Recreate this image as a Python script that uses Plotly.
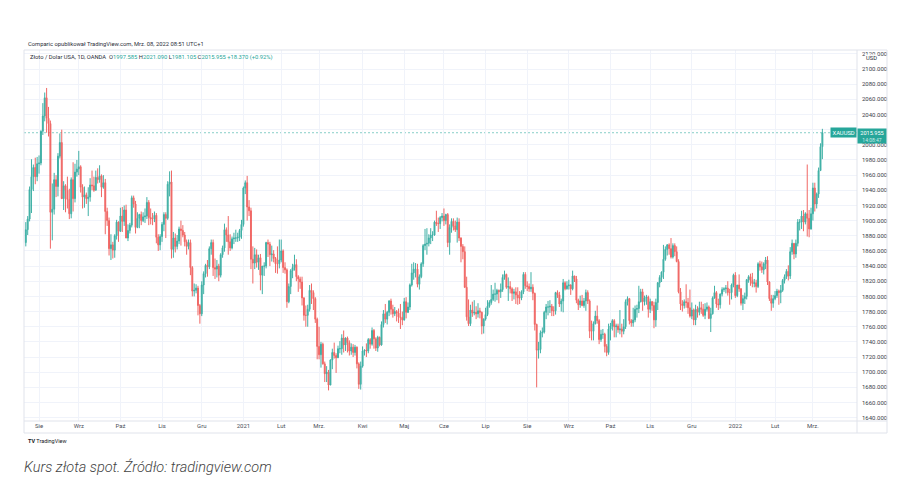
import pandas as pd
import plotly.graph_objects as go

# ---------------- data (XAU/USD, OANDA, 1D) ----------------
days = pd.bdate_range("2020-07-23", "2022-03-08")
days = days[~days.isin(pd.to_datetime(["2020-12-25", "2021-01-01"]))]
dates = [d.strftime("%Y-%m-%d") for d in days]

month_labels = ["Sie", "Wrz", "Paź", "Lis", "Gru", "2021", "Lut", "Mrz.", "Kwi", "Maj",
                "Cze", "Lip", "Sie", "Wrz", "Paź", "Lis", "Gru", "2022", "Lut", "Mrz."]

price_ticks = [1640, 1660, 1680, 1700, 1720, 1740, 1760, 1780, 1800, 1820, 1840, 1860, 1880,
               1900, 1920, 1940, 1960, 1980, 2000, 2020, 2040, 2060, 2080, 2100, 2120]
hidden_tick = 2020  # covered by the last-price label in the original

opens = [
    1871, 1888, 1902, 1941, 1958, 1970, 1958,  # 2020-07
    1975, 1976, 2018, 2038, 2062, 2035, 2028, 1911, 1915, 1954, 1945, 1985, 2003, 1929, 1946, 1940, 1928, 1909, 1954, 1929, 1964,  # 08
    1968, 1971, 1944, 1931, 1934, 1929, 1931, 1947, 1946, 1940, 1957, 1954, 1959, 1944, 1950, 1912, 1900, 1863, 1868, 1861, 1880, 1898,  # 09
    1886, 1906, 1899, 1914, 1877, 1887, 1894, 1930, 1922, 1891, 1903, 1908, 1900, 1905, 1906, 1924, 1904, 1902, 1902, 1907, 1878, 1868,  # 10
    1879, 1895, 1908, 1903, 1948, 1951, 1862, 1877, 1866, 1873, 1889, 1887, 1881, 1872, 1866, 1871, 1838, 1807, 1808, 1811, 1788,  # 11
    1777, 1815, 1830, 1841, 1839, 1863, 1871, 1838, 1836, 1840, 1828, 1855, 1864, 1888, 1881, 1872, 1864, 1876, 1877, 1877, 1878, 1887,  # 12
    1895, 1943, 1950, 1918, 1913, 1849, 1844, 1855, 1845, 1851, 1828, 1840, 1840, 1871, 1869, 1855, 1856, 1850, 1843, 1843,  # 2021-01
    1848, 1860, 1838, 1835, 1793, 1813, 1834, 1838, 1842, 1826, 1823, 1819, 1798, 1775, 1775, 1783, 1808, 1805, 1797, 1770,  # 02
    1734, 1723, 1737, 1711, 1698, 1700, 1683, 1716, 1726, 1722, 1719, 1731, 1731, 1745, 1736, 1745, 1739, 1728, 1733, 1726, 1733, 1711, 1684,  # 03
    1708, 1728, 1729, 1728, 1743, 1737, 1755, 1744, 1732, 1746, 1736, 1763, 1777, 1770, 1779, 1794, 1783, 1777, 1780, 1778, 1773, 1772,  # 04
    1769, 1793, 1779, 1786, 1815, 1831, 1836, 1836, 1816, 1826, 1843, 1867, 1869, 1870, 1877, 1881, 1881, 1898, 1896, 1896, 1904,  # 05
    1906, 1900, 1908, 1871, 1891, 1899, 1893, 1888, 1898, 1877, 1866, 1859, 1812, 1773, 1764, 1782, 1778, 1779, 1777, 1781, 1779, 1761,  # 06
    1770, 1776, 1787, 1792, 1796, 1803, 1803, 1808, 1806, 1809, 1825, 1829, 1812, 1813, 1810, 1804, 1806, 1802, 1798, 1798, 1806, 1829,  # 07
    1814, 1813, 1810, 1812, 1804, 1763, 1729, 1730, 1752, 1753, 1779, 1786, 1786, 1787, 1781, 1781, 1805, 1802, 1790, 1794, 1818, 1810,  # 08
    1814, 1815, 1810, 1827, 1823, 1795, 1789, 1794, 1788, 1794, 1805, 1794, 1754, 1754, 1764, 1774, 1768, 1743, 1750, 1750, 1734, 1726,  # 09
    1757, 1761, 1768, 1760, 1761, 1756, 1757, 1754, 1760, 1793, 1797, 1768, 1765, 1769, 1783, 1784, 1793, 1806, 1793, 1798, 1799,  # 10
    1783, 1793, 1788, 1769, 1792, 1818, 1825, 1832, 1849, 1862, 1868, 1863, 1852, 1867, 1859, 1846, 1806, 1790, 1788, 1793, 1792, 1785,  # 11
    1774, 1782, 1769, 1783, 1779, 1785, 1783, 1775, 1783, 1786, 1771, 1777, 1798, 1805, 1790, 1789, 1803, 1809, 1810, 1811, 1805, 1805, 1815,  # 12
    1828, 1801, 1815, 1810, 1791, 1797, 1800, 1822, 1826, 1821, 1817, 1818, 1813, 1843, 1839, 1835, 1843, 1848, 1819, 1797, 1791,  # 2022-01
    1797, 1801, 1807, 1805, 1808, 1821, 1826, 1833, 1827, 1859, 1870, 1856, 1870, 1898, 1898, 1906, 1898, 1909, 1903, 1889,  # 02
    1909, 1943, 1922, 1935, 1966, 1997.585,  # 03
]

highs = [
    1898, 1906, 1945, 1981, 1974, 1983, 1984,  # 2020-07
    1986, 2019, 2055, 2069, 2075, 2050, 2032, 1949, 1963, 1960, 1989, 2015, 2020, 1952, 1948, 1958, 1942, 1957, 1977, 1975, 1980,  # 08
    1992, 1973, 1948, 1945, 1937, 1944, 1956, 1966, 1958, 1966, 1969, 1973, 1961, 1960, 1955, 1917, 1904, 1882, 1872, 1882, 1901, 1899,  # 09
    1917, 1918, 1920, 1921, 1895, 1897, 1933, 1933, 1926, 1911, 1909, 1912, 1911, 1916, 1931, 1927, 1916, 1910, 1912, 1910, 1882, 1882,  # 10
    1898, 1911, 1911, 1952, 1965, 1966, 1885, 1883, 1881, 1892, 1900, 1894, 1885, 1875, 1875, 1875, 1840, 1817, 1816, 1814, 1790,  # 11
    1820, 1833, 1843, 1848, 1866, 1875, 1875, 1850, 1848, 1843, 1857, 1867, 1896, 1891, 1906, 1882, 1879, 1884, 1888, 1884, 1889, 1901,  # 12
    1945, 1953, 1959, 1927, 1917, 1866, 1864, 1862, 1855, 1856, 1839, 1845, 1872, 1875, 1872, 1867, 1861, 1852, 1866, 1875,  # 2021-01
    1875, 1862, 1845, 1837, 1817, 1836, 1843, 1855, 1849, 1828, 1826, 1826, 1799, 1788, 1789, 1815, 1817, 1808, 1799, 1772,  # 02
    1760, 1740, 1739, 1714, 1708, 1703, 1717, 1731, 1739, 1725, 1735, 1741, 1750, 1755, 1746, 1747, 1742, 1738, 1737, 1736, 1734, 1713, 1714,  # 03
    1734, 1730, 1738, 1745, 1745, 1759, 1757, 1746, 1748, 1747, 1767, 1782, 1790, 1781, 1795, 1797, 1789, 1786, 1782, 1784, 1790, 1780,  # 04
    1798, 1799, 1792, 1817, 1843, 1845, 1844, 1843, 1829, 1845, 1869, 1889, 1890, 1882, 1890, 1886, 1900, 1913, 1904, 1906, 1910,  # 05
    1916, 1909, 1910, 1895, 1903, 1903, 1900, 1904, 1903, 1878, 1869, 1866, 1826, 1796, 1789, 1793, 1795, 1787, 1791, 1785, 1780, 1771,  # 06
    1785, 1795, 1795, 1815, 1809, 1818, 1810, 1809, 1817, 1829, 1834, 1830, 1825, 1820, 1812, 1810, 1812, 1812, 1807, 1808, 1832, 1832,  # 07
    1820, 1817, 1832, 1816, 1805, 1764, 1740, 1755, 1759, 1781, 1790, 1794, 1795, 1790, 1787, 1806, 1808, 1806, 1797, 1823, 1820, 1820,  # 08
    1822, 1816, 1834, 1827, 1827, 1797, 1801, 1802, 1798, 1809, 1808, 1796, 1768, 1767, 1781, 1788, 1770, 1756, 1757, 1752, 1737, 1764,  # 09
    1765, 1770, 1770, 1764, 1764, 1782, 1764, 1770, 1796, 1800, 1798, 1770, 1785, 1788, 1789, 1814, 1810, 1810, 1801, 1802, 1801,  # 10
    1797, 1794, 1793, 1797, 1819, 1828, 1833, 1868, 1866, 1869, 1870, 1877, 1870, 1870, 1866, 1849, 1811, 1795, 1796, 1816, 1798, 1809,  # 11
    1792, 1784, 1789, 1787, 1793, 1793, 1790, 1791, 1792, 1788, 1785, 1800, 1814, 1807, 1797, 1804, 1812, 1812, 1815, 1820, 1810, 1817, 1830,  # 12
    1832, 1815, 1829, 1811, 1802, 1805, 1823, 1828, 1830, 1831, 1823, 1822, 1845, 1847, 1846, 1845, 1852, 1853, 1820, 1802, 1802,  # 2022-01
    1807, 1810, 1809, 1815, 1823, 1829, 1836, 1841, 1865, 1875, 1870, 1875, 1902, 1902, 1913, 1914, 1911, 1974, 1914, 1917,  # 02
    1950, 1950, 1937, 1970, 2002, 2021.090,  # 03
]

lows = [
    1866, 1881, 1899, 1910, 1939, 1948, 1952,  # 2020-07
    1962, 1973, 2013, 2031, 2016, 2011, 1863, 1874, 1908, 1931, 1932, 1982, 1930, 1914, 1911, 1916, 1902, 1903, 1912, 1924, 1958,  # 08
    1960, 1937, 1916, 1917, 1922, 1906, 1925, 1940, 1938, 1940, 1949, 1950, 1931, 1942, 1882, 1893, 1854, 1848, 1850, 1851, 1875, 1872,  # 09
    1885, 1885, 1893, 1877, 1873, 1883, 1891, 1917, 1883, 1890, 1890, 1894, 1898, 1897, 1902, 1894, 1895, 1894, 1898, 1870, 1860, 1861,  # 10
    1872, 1886, 1877, 1901, 1932, 1850, 1851, 1858, 1862, 1869, 1867, 1878, 1866, 1855, 1862, 1828, 1800, 1800, 1804, 1775, 1764,  # 11
    1774, 1803, 1825, 1826, 1836, 1855, 1827, 1823, 1825, 1820, 1825, 1851, 1859, 1872, 1855, 1860, 1862, 1869, 1872, 1872, 1873, 1876,  # 12
    1892, 1935, 1900, 1906, 1836, 1817, 1836, 1838, 1835, 1808, 1803, 1827, 1837, 1852, 1840, 1846, 1845, 1831, 1830, 1837,  # 2021-01
    1845, 1831, 1830, 1785, 1791, 1803, 1824, 1834, 1820, 1806, 1810, 1788, 1768, 1760, 1760, 1780, 1790, 1782, 1765, 1717,  # 02
    1717, 1706, 1710, 1687, 1687, 1676, 1683, 1704, 1718, 1699, 1719, 1725, 1723, 1726, 1728, 1726, 1722, 1723, 1720, 1722, 1705, 1678, 1677,  # 03
    1706, 1722, 1720, 1725, 1731, 1735, 1731, 1728, 1727, 1734, 1735, 1759, 1765, 1763, 1774, 1776, 1772, 1774, 1767, 1765, 1757, 1762,  # 04
    1768, 1771, 1778, 1782, 1813, 1822, 1825, 1812, 1809, 1824, 1839, 1861, 1855, 1866, 1869, 1873, 1880, 1893, 1885, 1889, 1899,  # 05
    1893, 1895, 1865, 1855, 1884, 1887, 1885, 1871, 1873, 1845, 1849, 1811, 1768, 1761, 1761, 1773, 1775, 1770, 1772, 1771, 1750, 1751,  # 06
    1768, 1774, 1785, 1789, 1794, 1793, 1795, 1791, 1798, 1806, 1822, 1810, 1794, 1804, 1794, 1796, 1790, 1789, 1790, 1795, 1803, 1810,  # 07
    1807, 1806, 1806, 1795, 1755, 1680, 1718, 1725, 1746, 1751, 1770, 1775, 1778, 1774, 1774, 1776, 1798, 1786, 1780, 1779, 1808, 1809,  # 08
    1809, 1802, 1808, 1819, 1791, 1782, 1785, 1787, 1785, 1781, 1790, 1745, 1742, 1742, 1763, 1764, 1737, 1740, 1744, 1726, 1721, 1723,  # 09
    1742, 1755, 1746, 1746, 1752, 1750, 1746, 1750, 1757, 1788, 1763, 1760, 1760, 1766, 1772, 1778, 1792, 1781, 1788, 1789, 1772,  # 10
    1778, 1781, 1758, 1760, 1782, 1812, 1819, 1823, 1847, 1854, 1855, 1850, 1850, 1853, 1845, 1804, 1782, 1780, 1784, 1785, 1777, 1772,  # 11
    1770, 1762, 1762, 1772, 1775, 1777, 1773, 1770, 1780, 1770, 1753, 1776, 1797, 1785, 1782, 1784, 1800, 1806, 1804, 1801, 1789, 1796, 1812,  # 12
    1798, 1799, 1806, 1788, 1782, 1790, 1796, 1818, 1814, 1812, 1812, 1805, 1811, 1834, 1831, 1829, 1836, 1815, 1794, 1781, 1785,  # 2022-01
    1795, 1798, 1789, 1791, 1806, 1817, 1823, 1821, 1823, 1855, 1849, 1851, 1866, 1887, 1889, 1886, 1895, 1879, 1878, 1888,  # 02
    1900, 1912, 1916, 1930, 1966, 1981.105,  # 03
]

closes = [
    1888, 1902, 1941, 1958, 1970, 1958, 1975,  # 2020-07
    1976, 2018, 2038, 2062, 2035, 2028, 1911, 1915, 1954, 1945, 1985, 2003, 1929, 1946, 1940, 1928, 1909, 1954, 1929, 1964, 1968,  # 08
    1971, 1944, 1931, 1934, 1929, 1931, 1947, 1946, 1940, 1957, 1954, 1959, 1944, 1950, 1912, 1900, 1863, 1868, 1861, 1880, 1898, 1886,  # 09
    1906, 1899, 1914, 1877, 1887, 1894, 1930, 1922, 1891, 1903, 1908, 1900, 1905, 1906, 1924, 1904, 1902, 1902, 1907, 1878, 1868, 1879,  # 10
    1895, 1908, 1903, 1948, 1951, 1862, 1877, 1866, 1873, 1889, 1887, 1881, 1872, 1866, 1871, 1838, 1807, 1808, 1811, 1788, 1777,  # 11
    1815, 1830, 1841, 1839, 1863, 1871, 1838, 1836, 1840, 1828, 1855, 1864, 1888, 1881, 1872, 1864, 1876, 1877, 1877, 1878, 1887, 1895,  # 12
    1943, 1950, 1918, 1913, 1849, 1844, 1855, 1845, 1851, 1828, 1840, 1840, 1871, 1869, 1855, 1856, 1850, 1843, 1843, 1848,  # 2021-01
    1860, 1838, 1835, 1793, 1813, 1834, 1838, 1842, 1826, 1823, 1819, 1798, 1775, 1775, 1783, 1808, 1805, 1797, 1770, 1734,  # 02
    1723, 1737, 1711, 1698, 1700, 1683, 1716, 1726, 1722, 1719, 1731, 1731, 1745, 1736, 1745, 1739, 1728, 1733, 1726, 1733, 1711, 1684, 1708,  # 03
    1728, 1729, 1728, 1743, 1737, 1755, 1744, 1732, 1746, 1736, 1763, 1777, 1770, 1779, 1794, 1783, 1777, 1780, 1778, 1773, 1772, 1769,  # 04
    1793, 1779, 1786, 1815, 1831, 1836, 1836, 1816, 1826, 1843, 1867, 1869, 1870, 1877, 1881, 1881, 1898, 1896, 1896, 1904, 1906,  # 05
    1900, 1908, 1871, 1891, 1899, 1893, 1888, 1898, 1877, 1866, 1859, 1812, 1773, 1764, 1782, 1778, 1779, 1777, 1781, 1779, 1761, 1770,  # 06
    1776, 1787, 1792, 1796, 1803, 1803, 1808, 1806, 1809, 1825, 1829, 1812, 1813, 1810, 1804, 1806, 1802, 1798, 1798, 1806, 1829, 1814,  # 07
    1813, 1810, 1812, 1804, 1763, 1729, 1730, 1752, 1753, 1779, 1786, 1786, 1787, 1781, 1781, 1805, 1802, 1790, 1794, 1818, 1810, 1814,  # 08
    1815, 1810, 1827, 1823, 1795, 1789, 1794, 1788, 1794, 1805, 1794, 1754, 1754, 1764, 1774, 1768, 1743, 1750, 1750, 1734, 1726, 1757,  # 09
    1761, 1768, 1760, 1761, 1756, 1757, 1754, 1760, 1793, 1797, 1768, 1765, 1769, 1783, 1784, 1793, 1806, 1793, 1798, 1799, 1783,  # 10
    1793, 1788, 1769, 1792, 1818, 1825, 1832, 1849, 1862, 1868, 1863, 1852, 1867, 1859, 1846, 1806, 1790, 1788, 1793, 1792, 1785, 1774,  # 11
    1782, 1769, 1783, 1779, 1785, 1783, 1775, 1783, 1786, 1771, 1777, 1798, 1805, 1790, 1789, 1803, 1809, 1810, 1811, 1805, 1805, 1815, 1828,  # 12
    1801, 1815, 1810, 1791, 1797, 1800, 1822, 1826, 1821, 1817, 1818, 1813, 1843, 1839, 1835, 1843, 1848, 1819, 1797, 1791, 1797,  # 2022-01
    1801, 1807, 1805, 1808, 1821, 1826, 1833, 1827, 1859, 1870, 1856, 1870, 1898, 1898, 1906, 1898, 1909, 1903, 1889, 1909,  # 02
    1943, 1922, 1935, 1966, 1997.585, 2015.955,  # 03
]

header_text = "Comparic opublikował TradingView.com, Mrz. 08, 2022 08:51 UTC+1"
symbol_text = "Złoto / Dolar USA, 1D, OANDA"
countdown_text = "14:08:47"
caption_text = "Kurs złota spot. Źródło: tradingview.com"

assert len(opens) == len(highs) == len(lows) == len(closes) == len(dates), (
    len(opens), len(highs), len(lows), len(closes), len(dates))

# ---------------- figure ----------------
UP = "#26a69a"
DOWN = "#ef5350"
GRID = "#f0f3fa"
FRAME = "#e0e3eb"
TXT = "#131722"

tick_dates = [dates[i] for i in range(1, len(dates)) if dates[i][:7] != dates[i - 1][:7]]

fig = go.Figure(go.Candlestick(
    x=dates, open=opens, high=highs, low=lows, close=closes,
    increasing=dict(line=dict(color=UP, width=1), fillcolor=UP),
    decreasing=dict(line=dict(color=DOWN, width=1), fillcolor=DOWN),
    whiskerwidth=0, hoverinfo="skip", opacity=0.88,
))

# The page body adds an 8px offset; all layout numbers below are in screen pixels.
OFF = 8
W, H = 901 - OFF, 482 - OFF
L, R, T, B = 24, 857, 50, 421   # plot area in screen pixels


def px(x):
    return (x - L) / (R - L)


def py(y):
    return (B - y) / (B - T)


last = closes[-1]
chg = closes[-1] - closes[-2]
pct = chg / closes[-2] * 100

fig.update_layout(
    width=W, height=H,
    margin=dict(l=L - OFF, r=(W + OFF) - R, t=T - OFF, b=(H + OFF) - B, pad=0),
    paper_bgcolor="white", plot_bgcolor="white",
    showlegend=False, hovermode=False,
    font=dict(family="Roboto, 'Open Sans', sans-serif", size=6, color=TXT),
    xaxis=dict(
        type="category", range=[-0.95, 439.3], rangeslider=dict(visible=False),
        tickmode="array", tickvals=tick_dates, ticktext=month_labels,
        showgrid=True, gridcolor=GRID, gridwidth=1, zeroline=False, showline=False,
        ticks="", tickfont=dict(size=6, color="#4a4e59"), tickangle=0,
        fixedrange=True,
    ),
    yaxis=dict(
        side="right", range=[1635.6, 2125.1],
        tickmode="array", tickvals=price_ticks,
        ticktext=["" if v == hidden_tick else f"{v:.3f}" for v in price_ticks],
        showgrid=True, gridcolor=GRID, gridwidth=1, zeroline=False, showline=False,
        ticks="", tickfont=dict(size=6, color="#3a3e4a"), ticklabelstandoff=4,
        fixedrange=True,
    ),
)

shapes = [
    dict(type="rect", xref="paper", yref="paper", x0=0, x1=px(887), y0=py(433), y1=1,
         line=dict(color=FRAME, width=1), fillcolor="rgba(0,0,0,0)", layer="above"),
    dict(type="line", xref="paper", yref="paper", x0=1, x1=1, y0=py(433), y1=1,
         line=dict(color=FRAME, width=1), layer="above"),
    dict(type="line", xref="paper", yref="paper", x0=0, x1=px(887), y0=0, y1=0,
         line=dict(color=FRAME, width=1), layer="above"),
    dict(type="line", xref="paper", yref="y", x0=0, x1=1, y0=last, y1=last,
         line=dict(color="rgba(38,166,154,0.55)", width=1, dash="2px,2px"), layer="below"),
]
fig.update_layout(shapes=shapes)

val = lambda v: f'<span style="color:{UP}">{v:.3f}</span>'
legend_html = (f"{symbol_text}&nbsp; O{val(opens[-1])} H{val(highs[-1])} L{val(lows[-1])} "
               f"C{val(closes[-1])} <span style=\"color:{UP}\">{chg:+.3f} ({pct:+.2f}%)</span>")

annotations = [
    dict(text=header_text, xref="paper", yref="paper", x=px(26), y=py(44),
         xanchor="left", yanchor="middle", showarrow=False,
         font=dict(size=5.8, color="#2a2e39")),
    dict(text=legend_html, xref="paper", yref="paper", x=px(28), y=py(57),
         xanchor="left", yanchor="middle", showarrow=False,
         font=dict(size=5.8, color="#2a2e39")),
    dict(text="USD", xref="paper", yref="paper", x=px(871), y=py(58),
         xanchor="center", yanchor="middle", showarrow=False,
         font=dict(size=5.8, color="#2a2e39"), bgcolor="rgba(255,255,255,0.92)", borderpad=0),
    dict(text="XAUUSD", xref="paper", yref="y", x=px(830), y=last,
         xanchor="left", yanchor="middle", showarrow=False,
         font=dict(size=5.8, color="white"), bgcolor=UP, borderpad=1.5),
    dict(text=f"{last:.3f}<br><span style=\"font-size:5px;color:#c8ece8\">{countdown_text}</span>",
         xref="paper", yref="paper", x=px(856.5), y=py(127.5),
         xanchor="left", yanchor="top", showarrow=False, width=27, align="center",
         font=dict(size=5.6, color="white"), bgcolor=UP, borderpad=0.5),
    dict(text="<b>TV</b> TradingView", xref="paper", yref="paper", x=px(26), y=py(441),
         xanchor="left", yanchor="middle", showarrow=False,
         font=dict(size=5.5, color="#131722")),
    dict(text=caption_text, xref="paper", yref="paper", x=px(22), y=py(467),
         xanchor="left", yanchor="middle", showarrow=False,
         font=dict(family="Roboto", size=14.5, color="#444444", style="italic", weight=300)),
]
fig.update_layout(annotations=annotations)

fig.write_html("out.html")
